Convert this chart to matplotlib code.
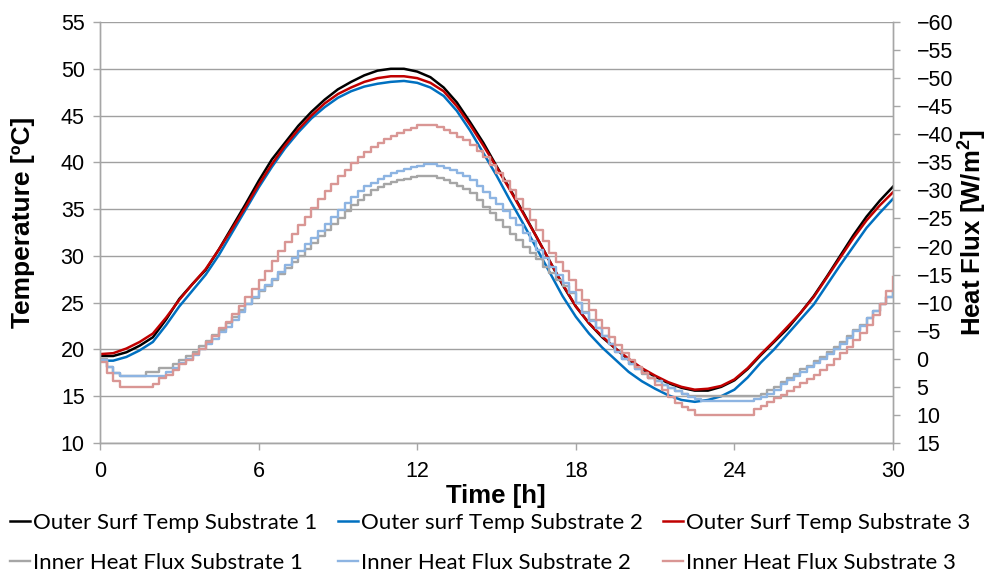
import numpy as np
import matplotlib
matplotlib.use("Agg")
import matplotlib.pyplot as plt

# half-hourly outer surface temperatures [C]
t_half = np.arange(0, 61) * 0.5
temp_s1 = [19.3, 19.3, 19.7, 20.4, 21.3, 23.2, 25.4, 27.0, 28.5, 30.7,
           33.1, 35.5, 38.0, 40.3, 42.1, 43.9, 45.4, 46.7, 47.8, 48.6,
           49.3, 49.8, 50.0, 50.0, 49.7, 49.1, 48.0, 46.4, 44.3, 42.1,
           39.6, 37.2, 34.7, 32.1, 29.5, 26.9, 24.6, 22.8, 21.3, 20.1,
           18.9, 17.9, 17.1, 16.4, 15.9, 15.6, 15.6, 16.0, 16.7, 17.9,
           19.4, 20.8, 22.2, 23.9, 25.7, 27.8, 30.0, 32.2, 34.2, 35.9, 37.4]
temp_s2 = [18.8, 18.8, 19.2, 19.9, 20.8, 22.6, 24.6, 26.3, 28.0, 30.1,
           32.5, 34.9, 37.3, 39.5, 41.5, 43.2, 44.7, 45.9, 46.9, 47.6,
           48.1, 48.4, 48.6, 48.7, 48.5, 48.0, 47.1, 45.5, 43.4, 41.0,
           38.6, 36.0, 33.5, 30.9, 28.3, 25.7, 23.5, 21.7, 20.2, 18.9,
           17.6, 16.6, 15.8, 15.1, 14.6, 14.4, 14.6, 15.0, 15.7, 17.0,
           18.6, 20.0, 21.6, 23.2, 24.8, 26.9, 29.0, 31.0, 33.0, 34.6, 36.1]
temp_s3 = [19.5, 19.6, 20.1, 20.8, 21.7, 23.4, 25.3, 27.0, 28.6, 30.7,
           32.9, 35.2, 37.6, 39.8, 41.8, 43.5, 45.0, 46.3, 47.3, 48.0,
           48.6, 49.0, 49.2, 49.2, 49.0, 48.5, 47.6, 46.0, 44.0, 41.8,
           39.5, 37.1, 34.6, 32.1, 29.5, 27.0, 24.6, 22.8, 21.4, 20.1,
           19.0, 18.0, 17.2, 16.5, 16.0, 15.7, 15.8, 16.1, 16.8, 18.0,
           19.5, 20.9, 22.4, 23.9, 25.6, 27.7, 29.8, 31.9, 33.8, 35.4, 36.8]

# quarter-hour inner heat flux [W/m2], one group of four per hour
t_quarter = np.arange(0, 121) * 0.25
flux_s1 = [0.1, 1.5, 2.5, 3.1,  3.1, 3.1, 3.1, 2.4,  2.4, 1.6, 1.6, 0.9,
           0.2, -0.5, -1.3, -2.2,  -3.2, -4.2, -5.2, -6.3,  -7.5, -8.7, -9.8, -10.9,
           -12.0, -13.0, -14.0, -15.1,  -16.2, -17.3, -18.4, -19.5,
           -20.7, -21.8, -22.9, -24.0,  -25.1, -26.3, -27.4, -28.3,
           -29.2, -30.0, -30.6, -31.1,  -31.5, -31.8, -32.1, -32.4,
           -32.5, -32.5, -32.5, -32.2,  -31.9, -31.3, -30.8, -30.3,
           -29.5, -28.3, -27.1, -25.9,  -24.7, -23.4, -22.3, -21.2,
           -20.0, -18.8, -17.7, -16.4,  -15.2, -14.0, -13.0, -11.7,
           -10.0, -8.4, -6.9, -5.5,  -4.0, -2.6, -1.2, 0.0,
           1.0, 1.9, 2.7, 3.4,  4.0, 4.6, 5.2, 5.8,  6.3, 6.7, 6.7, 6.7,
           6.7, 6.7, 6.7, 6.7,  6.7, 6.7, 6.7, 6.7,  6.2, 5.6, 5.0, 4.2,
           3.4, 2.7, 1.9, 1.2,  0.4, -0.4, -1.2, -2.1,  -3.0, -4.0, -5.1, -6.1,
           -7.3, -8.5, -9.7, -11.0,  -12.0]
flux_s2 = [0.2, 1.5, 2.5, 3.1,  3.1, 3.1, 3.1, 3.1,  3.1, 3.1, 2.3, 1.7,
           0.8, 0.1, -0.7, -1.7,  -2.6, -3.6, -4.7, -5.7,  -7.0, -8.4, -9.7, -11.0,
           -12.2, -13.2, -14.3, -15.5,  -16.7, -17.9, -19.2, -20.4,
           -21.6, -22.8, -24.0, -25.2,  -26.5, -27.8, -28.9, -29.9,
           -30.7, -31.4, -32.0, -32.6,  -33.1, -33.5, -33.8, -34.1,
           -34.4, -34.7, -34.7, -34.3,  -34.0, -33.6, -33.1, -32.6,
           -31.8, -30.8, -29.8, -28.6,  -27.5, -26.3, -25.0, -23.9,
           -22.4, -20.9, -19.4, -17.9,  -16.4, -15.0, -13.5, -11.9,
           -10.0, -8.2, -6.8, -5.5,  -4.0, -2.6, -1.2, 0.0,
           0.9, 1.8, 2.6, 3.4,  4.0, 4.6, 5.2, 5.8,  6.3, 6.8, 7.2, 7.6,
           7.6, 7.6, 7.6, 7.6,  7.6, 7.6, 7.6, 7.2,  6.8, 6.3, 5.5, 4.5,
           3.8, 3.0, 2.3, 1.5,  0.8, 0.0, -0.8, -1.7,  -2.7, -3.7, -4.9, -5.9,
           -7.2, -8.5, -9.7, -11.0,  -12.0]
flux_s3 = [0.5, 2.5, 4.0, 5.0,  5.0, 5.0, 5.0, 5.0,  4.5, 3.5, 2.8, 2.0,
           1.0, 0.2, -0.8, -1.8,  -3.0, -4.1, -5.4, -6.6,  -8.0, -9.4, -11.0, -12.4,
           -14.0, -15.6, -17.4, -19.2,  -20.8, -22.3, -23.8, -25.3,
           -26.9, -28.4, -29.9, -31.2,  -32.5, -33.7, -34.9, -35.9,
           -36.9, -37.8, -38.5, -39.1,  -39.7, -40.3, -40.8, -41.2,
           -41.7, -41.7, -41.7, -41.3,  -40.8, -40.3, -39.6, -38.9,
           -38.0, -37.0, -36.0, -34.6,  -33.1, -31.6, -30.0, -28.4,
           -26.6, -24.8, -23.0, -21.0,  -18.8, -17.2, -15.6, -14.0,
           -12.2, -10.5, -8.7, -7.0,  -5.4, -3.9, -2.4, -1.0,
           0.3, 1.4, 2.5, 3.4,  4.6, 5.6, 6.8, 7.8,  8.5, 9.2, 10.0, 10.0,
           10.0, 10.0, 10.0, 10.0,  10.0, 10.0, 10.0, 9.0,  8.4, 7.7, 7.0, 6.4,
           5.8, 5.0, 4.4, 3.6,  2.8, 2.0, 1.1, 0.1,  -1.0, -2.1, -3.3, -4.6,
           -6.1, -7.8, -9.7, -12.0,  -14.5]

temp_labels = ["Outer Surf Temp Substrate 1", "Outer surf Temp Substrate 2",
               "Outer Surf Temp Substrate 3"]
flux_labels = ["Inner Heat Flux Substrate 1", "Inner Heat Flux Substrate 2",
               "Inner Heat Flux Substrate 3"]
temp_colors = ["#000000", "#0070C0", "#C00000"]
flux_colors = ["#A6A6A6", "#8DB4E2", "#D99694"]

plt.rcParams['font.family'] = ['Liberation Sans', 'DejaVu Sans']
plt.rcParams['mathtext.fontset'] = 'custom'
plt.rcParams['mathtext.rm'] = 'Liberation Sans:bold'
plt.rcParams['mathtext.bf'] = 'Liberation Sans:bold'
axis_grey = "#A6A6A6"

fig = plt.figure(figsize=(9.87, 5.73), dpi=100)
ax = fig.add_axes([100 / 987, 1 - 443 / 573, 793 / 987, 421 / 573])
ax2 = ax.twinx()

temp_lines = []
for vals, c, lab in zip([temp_s1, temp_s2, temp_s3], temp_colors, temp_labels):
    ln, = ax.plot(t_half, vals, color=c, lw=1.8, label=lab)
    temp_lines.append(ln)

flux_lines = []
for vals, c, lab in zip([flux_s1, flux_s2, flux_s3], flux_colors, flux_labels):
    ln, = ax2.plot(t_quarter, vals, color=c, lw=1.7, drawstyle='steps-post', label=lab)
    flux_lines.append(ln)

ax.set_xlim(0, 30)
ax.set_ylim(10, 55)
ax.set_xticks(range(0, 31, 6))
ax.set_yticks(range(10, 56, 5))
ax2.set_ylim(15, -60)
ax2.set_yticks(range(15, -61, -5))

ax.grid(axis='y', color="#A0A0A0", lw=1.0)
ax.set_axisbelow(True)
for a in (ax, ax2):
    a.spines['top'].set_visible(False)
    for s in ('left', 'right', 'bottom'):
        a.spines[s].set_color(axis_grey)
        a.spines[s].set_linewidth(1.0)
    a.tick_params(colors='black', labelsize=15.5, length=5, width=1.0)
    a.tick_params(axis='both', color=axis_grey)
ax.tick_params(axis='x', pad=8)
ax.tick_params(axis='y', pad=6)
ax2.tick_params(axis='y', pad=12)

# axis titles
fig.text(496 / 987, 1 - 496 / 573, "Time [h]", fontsize=18.5, fontweight='bold',
         ha='center', va='center')
fig.text(23 / 987, 1 - 222 / 573, "Temperature [ºC]", fontsize=19, fontweight='bold',
         rotation=90, ha='center', va='center')
fig.text(972 / 987, 1 - 233 / 573, r"Heat Flux [W/m$^{2}$]", fontsize=18.5,
         fontweight='bold', rotation=90, ha='center', va='center')

handles = []
for tl, fl in zip(temp_lines, flux_lines):
    handles += [tl, fl]
fig.legend(handles=handles, labels=[h.get_label() for h in handles],
           ncol=3, loc='lower left', bbox_to_anchor=(0.008, -0.004),
           frameon=False, prop={'family': 'Lato', 'size': 16},
           handlelength=0.9, handletextpad=0.15, columnspacing=0.9,
           labelspacing=0.9, borderpad=0.1, borderaxespad=0.0)

fig.savefig("out.png", dpi=100)
